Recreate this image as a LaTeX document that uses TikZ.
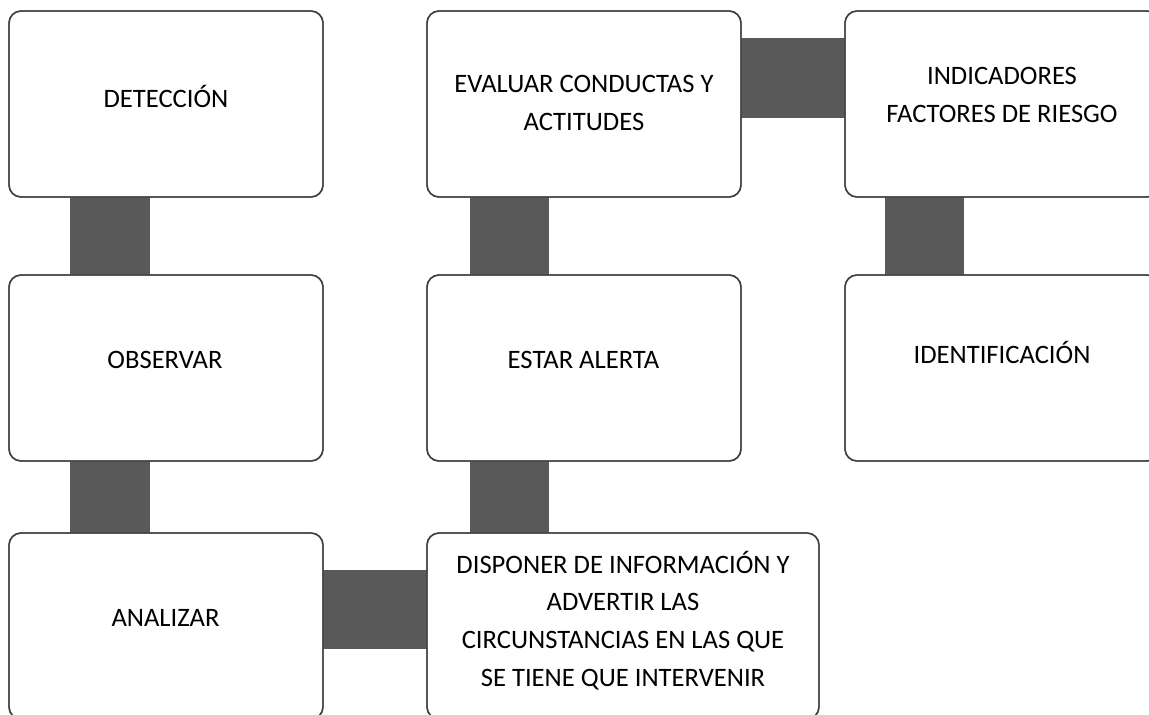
\documentclass[tikz,border=0pt]{standalone}
\usepackage{fontspec}
\setmainfont{Carlito}
\definecolor{barcol}{HTML}{595959}
\definecolor{edgecol}{HTML}{404040}
\tikzset{
  box/.style={draw=edgecol, line width=1.4pt, rounded corners=12pt, fill=white,
    minimum width=314pt, minimum height=186pt, inner sep=0pt, outer sep=0pt},
  widebox/.style={box, minimum width=392pt},
  lbl/.style={align=center, inner sep=0pt, font=\fontsize{26.6}{37.6}\selectfont, anchor=base},
  bar/.style={fill=barcol, draw=none}
}
\begin{document}
\begin{tikzpicture}[x=1pt,y=-1pt]
\useasboundingbox (0,0) rectangle (1149,715);
\fill[white] (0,0) rectangle (1149,715);
% boxes
\node[box] (b1) at (166,104) {};
\node[box] (b2) at (166,368) {};
\node[box] (b3) at (166,626) {};
\node[box] (b4) at (584,104) {};
\node[box] (b5) at (584,368) {};
\node[widebox] (b6) at (623,626) {};
\node[box] (b7) at (1002,104) {};
\node[box] (b8) at (1002,368) {};
% connectors
\fill[bar] ([xshift=61pt]b1.south west) rectangle ([xshift=141pt]b2.north west);
\fill[bar] ([xshift=61pt]b2.south west) rectangle ([xshift=141pt]b3.north west);
\fill[bar] ([xshift=43pt]b4.south west) rectangle ([xshift=122pt]b5.north west);
\fill[bar] ([xshift=43pt]b5.south west) rectangle ([xshift=122pt]b6.north west);
\fill[bar] ([xshift=40pt]b7.south west) rectangle ([xshift=119pt]b8.north west);
\fill[bar] ([yshift=-27pt]b4.north east) rectangle ([yshift=-107pt]b7.north west);
\fill[bar] ([yshift=-37pt]b3.north east) rectangle ([yshift=-116pt]b6.north west);
% redraw borders on top
\foreach \n in {b1,b2,b3,b4,b5,b6,b7,b8} {
  \draw[draw=edgecol, line width=1.4pt, rounded corners=12pt] (\n.south west) rectangle (\n.north east);
}
% labels
\node[lbl] (t1) at (166,107) {DETECCIÓN};
\node[lbl] (t2) at (165,368) {OBSERVAR};
\node[lbl] (t3) at (165.5,626) {ANALIZAR};
\node[lbl] (t4) at (584,130) {EVALUAR CONDUCTAS Y\\ACTITUDES};
\node[lbl] (t5) at (583.5,368) {ESTAR ALERTA};
\node[lbl] (t6) at (623,686) {DISPONER DE INFORMACIÓN Y\\ADVERTIR LAS\\CIRCUNSTANCIAS EN LAS QUE\\SE TIENE QUE INTERVENIR};
\node[lbl] (t7) at (1002,122) {INDICADORES\\FACTORES DE RIESGO};
\node[lbl] (t8) at (1002,363) {IDENTIFICACIÓN};
\end{tikzpicture}
\end{document}
